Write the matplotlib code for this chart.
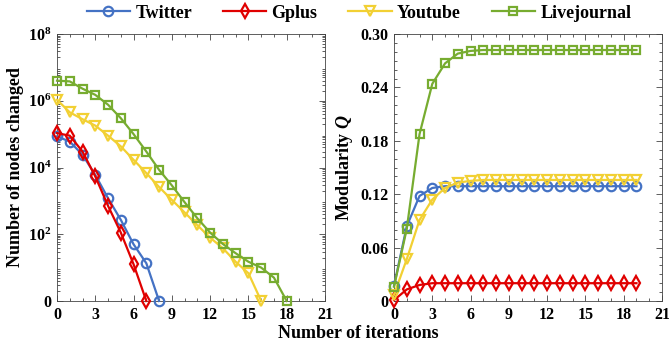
import numpy as np
import matplotlib
matplotlib.use("Agg")
import matplotlib.pyplot as plt
from matplotlib.ticker import MultipleLocator, FixedLocator, LogLocator, NullFormatter

plt.rcParams['font.family'] = ['Liberation Serif', 'DejaVu Serif']
plt.rcParams['font.weight'] = 'bold'
plt.rcParams['mathtext.fontset'] = 'custom'
plt.rcParams['mathtext.rm'] = 'Liberation Serif:bold'
plt.rcParams['mathtext.it'] = 'Liberation Serif:italic:bold'
plt.rcParams['mathtext.bf'] = 'Liberation Serif:bold'

names = ["Twitter", "Gplus", "Youtube", "Livejournal"]
colors = ["#4472C4", "#E00000", "#F2D033", "#77AC30"]
markers = ["o", "d", "v", "s"]

# Left panel: number of nodes changed per iteration (0 = none)
twitter_changed = [8.5e4, 6e4, 2.4e4, 6e3, 1.2e3, 270, 50, 13.5, 0]
gplus_changed = [1.07e5, 9e4, 3e4, 5.4e3, 710, 112, 12.6, 0]
youtube_changed = [1.07e6, 4.5e5, 2.8e5, 1.8e5, 9e4, 4.3e4, 1.7e4, 6.8e3, 2.6e3,
                   1.07e3, 450, 186, 79, 38, 15, 6.8, 0]
livejournal_changed = [4.0e6, 3.8e6, 2.3e6, 1.5e6, 7.6e5, 3.0e5, 1.0e5, 3.0e4, 8.5e3,
                       2.9e3, 910, 300, 112, 51, 27, 15, 10, 5, 0]

# Right panel: modularity Q per iteration (0..19)
twitter_q = [0.017, 0.084, 0.118, 0.127, 0.129] + [0.129] * 15
gplus_q = [0.001, 0.013, 0.018, 0.020] + [0.020] * 16
youtube_q = [0.007, 0.047, 0.091, 0.114, 0.127, 0.133, 0.135] + [0.136] * 13
livejournal_q = [0.016, 0.081, 0.1875, 0.244, 0.267, 0.278, 0.281] + [0.282] * 13

changed = [twitter_changed, gplus_changed, youtube_changed, livejournal_changed]
modq = [twitter_q, gplus_q, youtube_q, livejournal_q]

fig = plt.figure(figsize=(6.69, 3.47), dpi=100)
W, H = 669, 347
ax1 = fig.add_axes([57 / W, 1 - 301 / H, (325 - 57) / W, (301 - 34) / H])
ax2 = fig.add_axes([394 / W, 1 - 301 / H, (662 - 394) / W, (301 - 34) / H])

MS = {'o': 6.8, 'd': 7.2, 'v': 7.0, 's': 6.2}

handles = []
for name, c, m, vals in zip(names, colors, markers, changed):
    v = np.array(vals, dtype=float)
    v = np.where(v <= 0, 1.0, v)
    x = np.arange(len(v))
    h, = ax1.plot(x, v, color=c, marker=m, mfc='none', mec=c, mew=1.6,
                  ms=MS[m], lw=1.6, label=name, clip_on=False, zorder=3)
    handles.append(h)

for name, c, m, vals in zip(names, colors, markers, modq):
    x = np.arange(len(vals))
    ax2.plot(x, vals, color=c, marker=m, mfc='none', mec=c, mew=1.6,
             ms=MS[m], lw=1.6, clip_on=False, zorder=3)

ax1.set_yscale('log')
ax1.set_ylim(1, 1e8)
ax1.yaxis.set_major_locator(FixedLocator([1, 1e2, 1e4, 1e6, 1e8]))
ax1.set_yticklabels(['0', r'$\mathregular{10^{2}}$', r'$\mathregular{10^{4}}$',
                     r'$\mathregular{10^{6}}$', r'$\mathregular{10^{8}}$'])
ax1.yaxis.set_minor_locator(LogLocator(base=10, subs=np.arange(2, 10), numticks=20))
ax1.yaxis.set_minor_formatter(NullFormatter())
ax1.set_ylabel('Number of nodes changed', fontsize=13, fontweight='bold', labelpad=3)

ax2.set_ylim(0, 0.30)
ax2.set_yticks([0, 0.06, 0.12, 0.18, 0.24, 0.30])
ax2.set_yticklabels(['0', '0.06', '0.12', '0.18', '0.24', '0.30'])
ax2.yaxis.set_minor_locator(MultipleLocator(0.01))
ax2.set_ylabel(r'Modularity $Q$', fontsize=13, fontweight='bold', labelpad=4)

for ax in (ax1, ax2):
    ax.set_xlim(0, 21)
    ax.xaxis.set_major_locator(MultipleLocator(3))
    ax.xaxis.set_minor_locator(MultipleLocator(1))
    ax.tick_params(which='both', direction='in', top=True, right=True,
                   labelsize=11.5, width=0.6, color='#444444', pad=4)
    ax.tick_params(which='major', length=4)
    ax.tick_params(which='minor', length=2)
    for s in ax.spines.values():
        s.set_linewidth(0.6)
        s.set_color('#444444')
    for lbl in ax.get_xticklabels() + ax.get_yticklabels():
        lbl.set_fontweight('bold')

fig.text(358 / W, 1 - 334 / H, 'Number of iterations', ha='center', va='center',
         fontsize=13, fontweight='bold')

fig.legend(handles=handles, labels=names, loc='center', ncol=4,
           bbox_to_anchor=(359 / W, 1 - 13 / H), frameon=False,
           prop={'family': 'Liberation Serif', 'weight': 'bold', 'size': 13},
           handlelength=2.4, columnspacing=1.7, handletextpad=0.3,
           borderaxespad=0, borderpad=0)

fig.savefig('out.png', dpi=100)
